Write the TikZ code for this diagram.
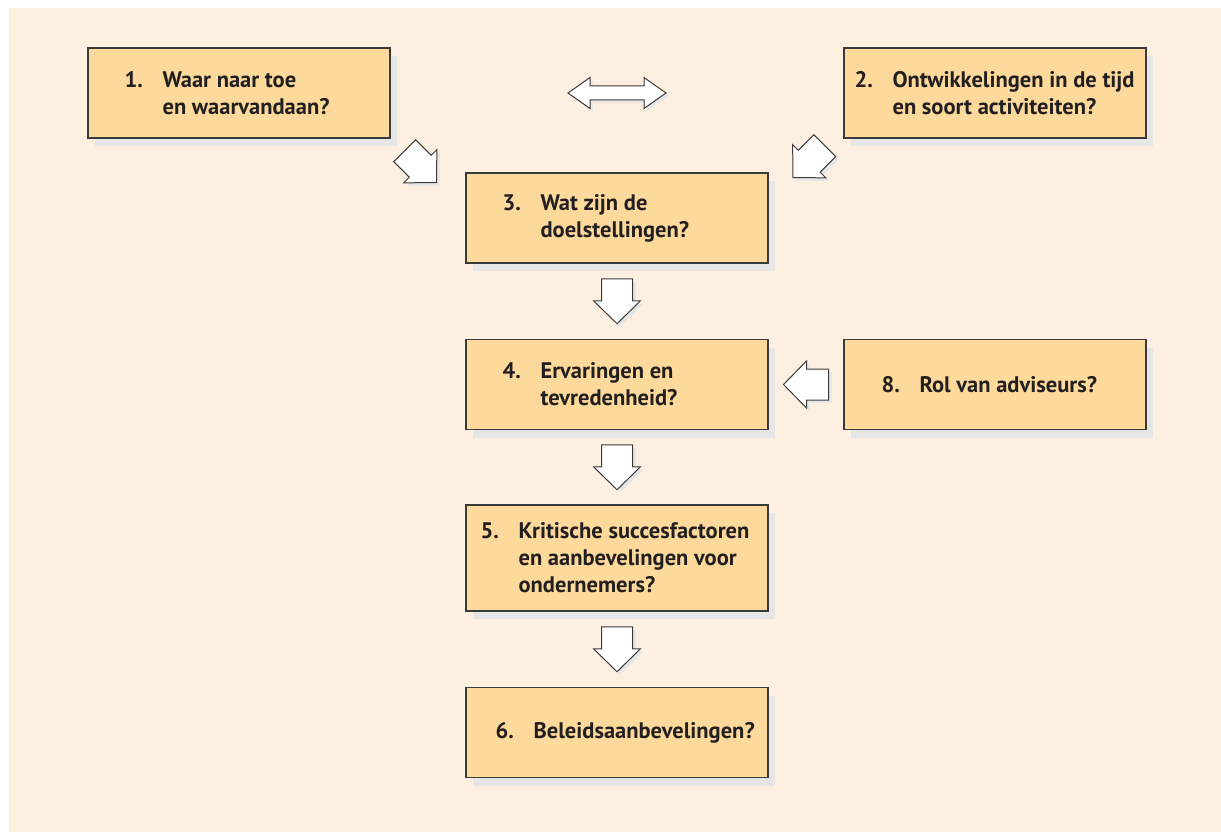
\documentclass[tikz,border=0pt]{standalone}
\usepackage{fontspec}
\setmainfont{PT Sans}
\usetikzlibrary{positioning,calc,shadows}

\definecolor{bgcream}{HTML}{FEF0E1}
\definecolor{boxfill}{HTML}{FDD99B}
\definecolor{edgegray}{HTML}{3A3A3A}
\definecolor{shadegray}{HTML}{E6E6E6}
\definecolor{inkdark}{HTML}{231F20}

\newcommand{\nr}[1]{\makebox[38pt][l]{#1}}
\newcommand{\ind}{\hspace*{38pt}}

\tikzset{
  qbox/.style={draw=edgegray, line width=1.2pt, fill=boxfill,
    minimum width=302pt, minimum height=90pt, inner sep=0pt,
    drop shadow={shadow xshift=7pt, shadow yshift=-8pt, fill=shadegray, opacity=1}},
  qtext/.style={align=left, inner sep=0pt, text=inkdark,
    font=\fontsize{22.5}{27}\selectfont\bfseries},
  arrowbody/.style={draw=edgegray, line width=1pt, fill=white,
    drop shadow={shadow xshift=3pt, shadow yshift=-3pt, fill=shadegray, opacity=1}},
  pics/blockarrow/.style={code={
    \draw[arrowbody] (-22.5,-15.5) -- (-0.5,-15.5) -- (-0.5,-23.5) -- (22.5,0)
      -- (-0.5,23.5) -- (-0.5,15.5) -- (-22.5,15.5) -- cycle;
  }},
  pics/twowayarrow/.style={code={
    \draw[arrowbody] (-49,0) -- (-27,-15.5) -- (-27,-7) -- (27,-7) -- (27,-15.5)
      -- (49,0) -- (27,15.5) -- (27,7) -- (-27,7) -- (-27,15.5) -- cycle;
  }}
}

\begin{document}
\begin{tikzpicture}[x=1pt,y=-1pt]
  \useasboundingbox (0,0) rectangle (1221,832);
  \fill[bgcream] (9,8) rectangle (1221,832);

  % question boxes
  \node[qbox] (b1) at (239,93) {};
  \node[qbox] (b2) at (995,93) {};
  \node[qbox] (b3) at (617,218) {};
  \node[qbox] (b4) at (617,384.5) {};
  \node[qbox] (b8) at (995,384.5) {};
  \node[qbox, minimum height=106pt] (b5) at (617,558) {};
  \node[qbox] (b6) at (617,732.5) {};

  \node[qtext, right=37pt of b1.west] (t1) {\nr{1.}Waar naar toe\\\ind en waarvandaan?};
  \node[qtext, right=11pt of b2.west] (t2) {\nr{2.}Ontwikkelingen in de tijd\\\ind en soort activiteiten?};
  \node[qtext, right=37pt of b3.west] (t3) {\nr{3.}Wat zijn de\\\ind doelstellingen?};
  \node[qtext, right=37pt of b4.west] (t4) {\nr{4.}Ervaringen en\\\ind tevredenheid?};
  \node[qtext, right=38pt of b8.west] (t8) {\nr{8.}Rol van adviseurs?};
  \node[qtext, right=15pt of b5.west] (t5) {\nr{5.}Kritische succesfactoren\\\ind en aanbevelingen voor\\\ind ondernemers?};
  \node[qtext, right=30pt of b6.west] (t6) {\nr{6.}Beleidsaanbevelingen?};

  % block arrows
  \pic at ($(b1.east)!.5!(b2.west)$) {twowayarrow};
  \pic[rotate=-45] at ($(b1.south east)+(30,28)$) {blockarrow};
  \pic[rotate=-135] at ($(b2.south west)+(-34.5,23)$) {blockarrow};
  \pic[rotate=-90] at ($(b3.south)!.5!(b4.north)$) {blockarrow};
  \pic[rotate=-90] at ($(b4.south)!.5!(b5.north)$) {blockarrow};
  \pic[rotate=-90] at ($(b5.south)!.5!(b6.north)$) {blockarrow};
  \pic[rotate=180] at ($(b4.east)!.5!(b8.west)$) {blockarrow};
\end{tikzpicture}
\end{document}
